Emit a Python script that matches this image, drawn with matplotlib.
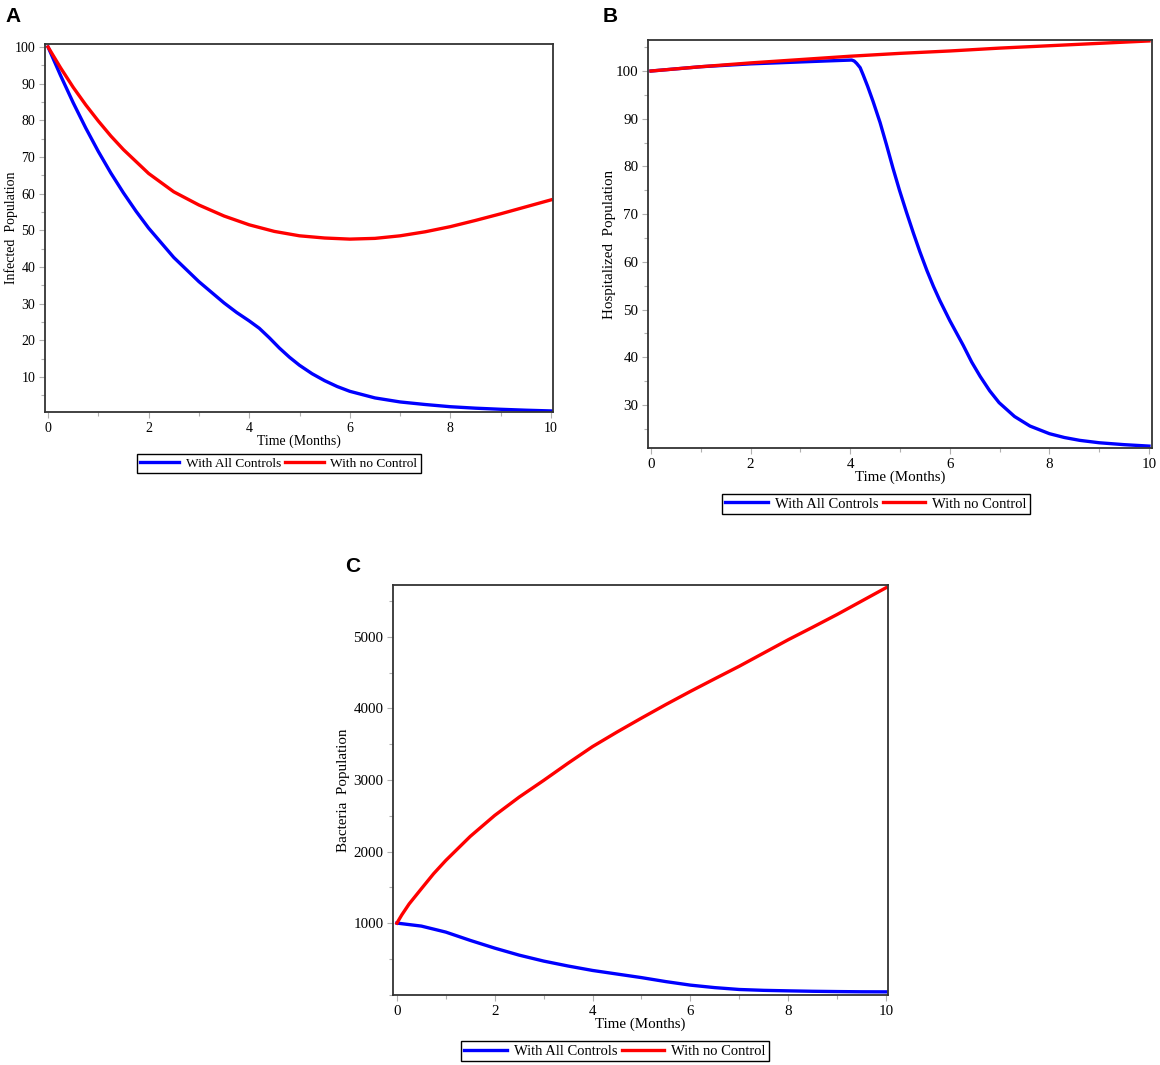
import matplotlib
matplotlib.use("Agg")
import matplotlib.pyplot as plt
from matplotlib.ticker import MultipleLocator

# ---------------- data ----------------
t_a_all = [0, 0.25, 0.5, 0.75, 1, 1.25, 1.5, 1.75, 2, 2.5, 3, 3.5, 3.75, 4, 4.2, 4.4, 4.6, 4.8, 5, 5.25, 5.5, 5.75, 6, 6.5, 7, 7.5, 8, 8.5, 9, 9.5, 10]
infected_all = [100, 92.2, 84.8, 77.9, 71.5, 65.6, 60.2, 55.2, 50.6, 42.6, 36.0, 30.2, 27.6, 25.3, 23.3, 20.7, 17.9, 15.4, 13.2, 10.9, 9.0, 7.4, 6.1, 4.3, 3.2, 2.5, 1.9, 1.5, 1.2, 0.95, 0.75]
t_a_none = [0, 0.25, 0.5, 0.75, 1, 1.25, 1.5, 2, 2.5, 3, 3.5, 4, 4.5, 5, 5.5, 6, 6.5, 7, 7.5, 8, 8.5, 9, 9.5, 10]
infected_none = [100, 94.3, 89.0, 84.2, 79.8, 75.7, 72.0, 65.5, 60.5, 56.9, 53.9, 51.5, 49.7, 48.5, 47.9, 47.6, 47.8, 48.5, 49.6, 51.0, 52.7, 54.5, 56.4, 58.3]

t_b_all = [0, 1, 2, 3, 3.5, 4.03, 4.08, 4.13, 4.2, 4.26, 4.35, 4.46, 4.6, 4.73, 4.86, 4.99, 5.13, 5.27, 5.4, 5.54, 5.67, 5.8, 6.0, 6.27, 6.44, 6.61, 6.8, 6.99, 7.3, 7.61, 8.0, 8.3, 8.61, 9.0, 9.5, 10]
hosp_all = [100, 100.9, 101.5, 101.9, 102.1, 102.3, 102.1, 101.6, 100.7, 99.2, 96.8, 93.6, 89.2, 84.5, 79.6, 75.0, 70.4, 66.0, 62.1, 58.2, 54.9, 51.9, 47.7, 42.5, 39.0, 36.0, 33.0, 30.5, 27.6, 25.6, 24.0, 23.2, 22.6, 22.1, 21.7, 21.4]
t_b_none = [0, 1, 2, 3, 4, 5, 6, 7, 8, 9, 10]
hosp_none = [100, 100.9, 101.7, 102.4, 103.1, 103.7, 104.2, 104.8, 105.3, 105.8, 106.3]

t_c_all = [0, 0.5, 1, 1.5, 2, 2.5, 3, 3.5, 4, 4.5, 5, 5.5, 6, 6.5, 7, 7.5, 8, 8.5, 9, 9.5, 10]
bact_all = [1000, 958, 874, 758, 650, 552, 469, 400, 338, 288, 238, 182, 133, 98, 72, 60, 53, 47, 43, 40, 39]
t_c_none = [0, 0.1, 0.25, 0.5, 0.75, 1, 1.5, 2, 2.5, 3, 3.5, 4, 4.5, 5, 5.5, 6, 6.5, 7, 7.5, 8, 8.5, 9, 9.5, 10]
bact_none = [1000, 1115, 1268, 1480, 1690, 1876, 2212, 2505, 2761, 2994, 3235, 3467, 3670, 3865, 4055, 4238, 4415, 4590, 4775, 4960, 5135, 5313, 5500, 5687]

legend_labels = ["With All Controls", "With no Control"]
xlabel = "Time (Months)"
ylabels = ["Infected  Population", "Hospitalized  Population", "Bacteria  Population"]
panel_letters = ["A", "B", "C"]

# ---------------- figure ----------------
W, H = 1160, 1065
fig = plt.figure(figsize=(W / 100, H / 100), dpi=100)
serif = ["Liberation Serif", "DejaVu Serif"]

def box(l, t, r, b):
    return [l / W, 1 - b / H, (r - l) / W, (b - t) / H]

axA = fig.add_axes(box(45, 44, 553, 412))
axB = fig.add_axes(box(648, 40, 1152, 448))
axC = fig.add_axes(box(393, 585, 888, 995))

# (ax, x_all, y_all, x_none, y_none, xlim, ylim, minor step, yticks, ylabel, ylabel x (px), font size)
specs = [
    (axA, t_a_all, infected_all, t_a_none, infected_none, (-0.06, 10.04), (0.46, 100.8), 5, range(10, 101, 10), ylabels[0], 11, 10.0),
    (axB, t_b_all, hosp_all, t_b_none, hosp_none, (-0.06, 10.06), (21.0, 106.5), 5, range(30, 101, 10), ylabels[1], 609, 10.8),
    (axC, t_c_all, bact_all, t_c_none, bact_none, (-0.08, 10.04), (-5, 5725), 500, range(1000, 5001, 1000), ylabels[2], 343, 10.8),
]

for ax, x1, y1, x2, y2, xl, yl, ymin, yt, ylab, ylpx, fs in specs:
    ax.plot(x1, y1, color="#0000ff", lw=2.4, solid_joinstyle="round", label=legend_labels[0])
    ax.plot(x2, y2, color="#ff0000", lw=2.4, solid_joinstyle="round", label=legend_labels[1])
    ax.set_xlim(*xl)
    ax.set_ylim(*yl)
    ax.set_xticks([0, 2, 4, 6, 8, 10])
    ax.xaxis.set_minor_locator(MultipleLocator(1))
    ax.set_yticks(list(yt))
    ax.yaxis.set_minor_locator(MultipleLocator(ymin))
    ax.tick_params(which="both", direction="out", color="#b0b0b0", width=0.8)
    ax.tick_params(which="major", length=4, pad=3, labelsize=fs)
    ax.tick_params(which="minor", length=3)
    for lab in ax.get_xticklabels() + ax.get_yticklabels():
        lab.set_family(serif)
    for sp in ax.spines.values():
        sp.set_color("#333333")
        sp.set_linewidth(1.3)
    ax.set_xlabel(xlabel, family=serif, fontsize=fs, labelpad=0)
    ax.set_ylabel(ylab, family=serif, fontsize=fs, va="center")
    bb = ax.get_position()
    ax.yaxis.set_label_coords((ylpx / W - bb.x0) / bb.width, 0.5)

# legends
leg_specs = [(axA, 279, 464, 9.6), (axB, 876, 504, 10.5), (axC, 615, 1051, 10.5)]
for ax, lx, ly, fs in leg_specs:
    leg = fig.legend(*ax.get_legend_handles_labels(), loc="center",
                     bbox_to_anchor=(lx / W, 1 - ly / H), ncol=2,
                     prop={"family": serif, "size": fs},
                     frameon=True, fancybox=False, edgecolor="black", framealpha=1,
                     handlelength=2.9, handletextpad=0.5, columnspacing=0.3,
                     borderpad=0.25, borderaxespad=0)
    leg.get_frame().set_linewidth(1.0)

# panel letters
for letter, (px, py) in zip(panel_letters, [(5, 22), (603, 22), (345, 572)]):
    fig.text(px / W, 1 - py / H, letter, fontsize=15, fontweight="bold",
             family=["Liberation Sans", "DejaVu Sans"], ha="left", va="baseline")

fig.savefig("out.png", dpi=100)
